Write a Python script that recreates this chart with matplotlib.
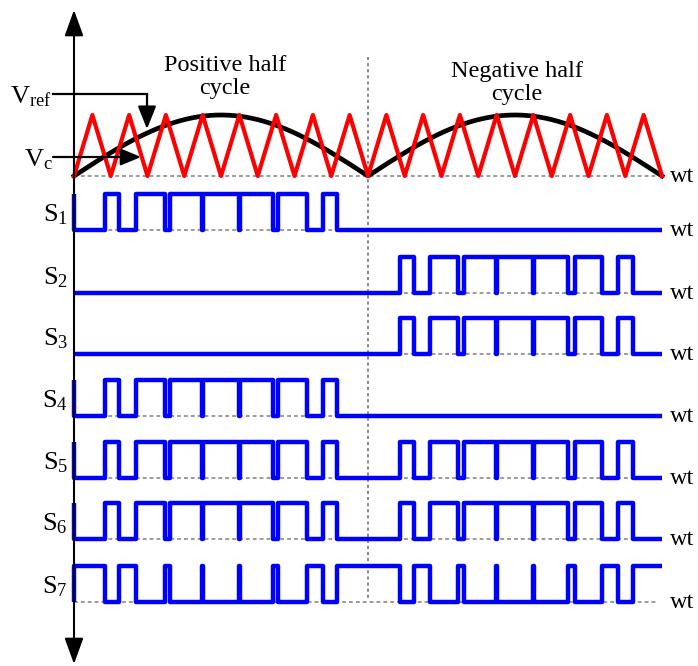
import numpy as np
import matplotlib
matplotlib.use('Agg')
import matplotlib.pyplot as plt
from matplotlib.patches import FancyArrowPatch

plt.rcParams['font.family'] = 'Liberation Serif'
plt.rcParams['mathtext.fontset'] = 'custom'
plt.rcParams['mathtext.rm'] = 'Liberation Serif'
plt.rcParams['mathtext.it'] = 'Liberation Serif:italic'

# time axis in carrier periods, 16 carrier periods for one fundamental cycle
n_periods = 16
half = 8

# switching instants (carrier periods)
pos_edges = [0.84, 1.23, 1.70, 2.47, 2.60, 3.48, 3.50, 4.50, 4.52, 5.42, 5.56, 6.33, 6.78, 7.16]
neg_edges = [8.86, 9.25, 9.70, 10.44, 10.60, 11.49, 11.51, 12.50, 12.52, 13.45, 13.62, 14.36, 14.79, 15.22]

# (label, initial state, switching instants)
switches = [
    ("1", 1, [0.0] + pos_edges),
    ("2", 0, neg_edges),
    ("3", 0, neg_edges),
    ("4", 1, [0.0] + pos_edges),
    ("5", 1, [0.0] + pos_edges + neg_edges),
    ("6", 1, [0.0] + pos_edges + neg_edges),
    ("7", 0, [0.0] + pos_edges + neg_edges),
]

# layout (pixel-ish units, y grows downwards)
P = 36.75          # pixels per carrier period
X0 = 74            # time origin in pixels
carrier_base = 176
carrier_amp = 61
row_base = [230, 293, 354, 416, 478, 539, 602]
pulse_h = 36

BLUE = '#0000ff'
RED = '#ff0000'
GRAY = '#7f7f7f'


def px(x):
    return (x - X0) / P


def pulse(start, edges):
    xs, ys = [0.0], [start]
    s = start
    for e in edges:
        xs += [e, e]
        ys += [s, 1 - s]
        s = 1 - s
    xs.append(n_periods)
    ys.append(s)
    return np.array(xs), np.array(ys)


fig = plt.figure(figsize=(6.98, 6.66), dpi=100)
ax = fig.add_axes([0, 0, 1, 1])
ax.set_xlim(px(0), px(698))
ax.set_ylim(666, 0)
ax.axis('off')

# reference and carrier
t = np.linspace(0, n_periods, 1200)
ref = np.abs(np.sin(np.pi * t / half))
ax.plot([0, n_periods], [carrier_base, carrier_base], color=GRAY, lw=1.1, ls=(0, (2.5, 2)))
tri_t = np.arange(0, n_periods + 0.5, 0.5)
tri_v = (np.arange(len(tri_t)) % 2).astype(float)
ax.plot(t, carrier_base - carrier_amp * ref, color='black', lw=3.4, zorder=3)
ax.plot(tri_t, carrier_base - carrier_amp * tri_v, color=RED, lw=3.0, zorder=4)
ax.text(px(670), carrier_base + 6, 'wt', fontsize=17.5, ha='left', va='baseline')

# half cycle divider
ax.plot([half, half], [57, 600], color='#666666', lw=1.1, ls=(0, (2, 2)), zorder=1)

# gate signals
for (lab, s0, edges), yb in zip(switches, row_base):
    ax.plot([0, n_periods - 0.1], [yb, yb], color=GRAY, lw=1.1, ls=(0, (2.5, 2)), zorder=1)
    xs, ys = pulse(s0, edges)
    ax.plot(xs, yb - pulse_h * ys, color=BLUE, lw=3.2, zorder=5,
            solid_joinstyle='round', solid_capstyle='butt')
    ax.text(px(68), yb - pulse_h / 2 + 9, r'$\mathrm{S}_{%s}$' % lab, fontsize=19,
            ha='right', va='baseline')
    ax.text(px(670), yb + 6, 'wt', fontsize=17.5, ha='left', va='baseline')

# vertical axis with arrows at both ends
ax.add_patch(FancyArrowPatch((0, 664), (0, 10), arrowstyle='<|-|>,head_length=16,head_width=5.8',
                             mutation_scale=1, lw=1.5, color='black', shrinkA=0, shrinkB=0, zorder=6))

# V_ref and V_c pointers
ax.plot([px(53), px(147)], [94, 94], color='black', lw=1.6, zorder=6)
ax.add_patch(FancyArrowPatch((px(147), 94), (px(147), 129), arrowstyle='-|>,head_length=14,head_width=5.6',
                             mutation_scale=1, lw=1.6, color='black', shrinkA=0, shrinkB=0, zorder=6))
ax.add_patch(FancyArrowPatch((px(53), 157), (px(141), 157), arrowstyle='-|>,head_length=12.5,head_width=5.2',
                             mutation_scale=1, lw=1.6, color='black', shrinkA=0, shrinkB=0, zorder=6))
ax.text(px(52), 103, r'$\mathrm{V}_{\mathrm{ref}}$', fontsize=19, ha='right', va='baseline')
ax.text(px(53), 166, r'$\mathrm{V}_{\mathrm{c}}$', fontsize=19, ha='right', va='baseline')

ax.text(px(225), 77, 'Positive half\ncycle', fontsize=17.5, ha='center', va='center', linespacing=1.15)
ax.text(px(517), 83, 'Negative half\ncycle', fontsize=17.5, ha='center', va='center', linespacing=1.15)

fig.savefig('out.png', dpi=100)
